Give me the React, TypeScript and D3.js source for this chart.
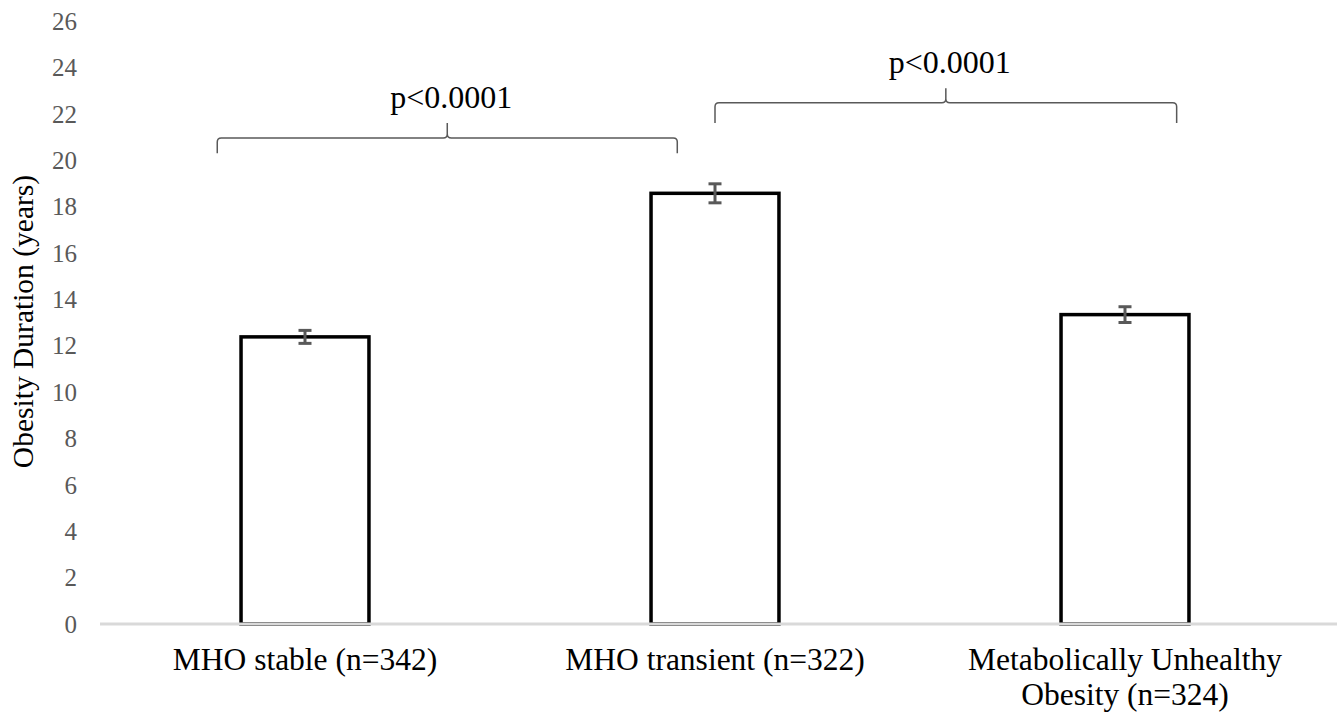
import React from "react";
import * as d3 from "d3";

// data
const categories = ["MHO stable (n=342)", "MHO transient (n=322)", "Metabolically Unhealthy Obesity (n=324)"];
const categoryLines = [["MHO stable (n=342)"], ["MHO transient (n=322)"], ["Metabolically Unhealthy", "Obesity (n=324)"]];
const means = [12.38, 18.57, 13.34];
const errors = [0.28, 0.41, 0.34];
const yTicks = [0, 2, 4, 6, 8, 10, 12, 14, 16, 18, 20, 22, 24, 26];

// significance braces: span in category units (0..3), heights in y units
const braceLabels = ["p<0.0001", "p<0.0001"];
const braceFrom = [0.286, 1.5];
const braceTo = [1.408, 2.626];
const braceLevel = [20.96, 22.47];
const braceFoot = [20.3, 21.6];
const bracePeak = [21.6, 23.1];

const width = 1337;
const height = 715;
const margin = { left: 100, right: 7, top: 21, bottom: 91 };
const font = "'Liberation Serif', 'Times New Roman', serif";
const gray = "#595959";

export default function App() {
  const x = d3
    .scaleBand<string>()
    .domain(categories)
    .range([margin.left, width - margin.right])
    .paddingInner(0.688)
    .paddingOuter(0.344);

  const xc = d3.scaleLinear().domain([0, 3]).range([margin.left, width - margin.right]);

  const y = d3
    .scaleLinear()
    .domain([0, 26])
    .range([height - margin.bottom, margin.top]);

  const bracePath = (i: number) => {
    const x0 = xc(braceFrom[i]);
    const x1 = xc(braceTo[i]);
    const xm = (x0 + x1) / 2;
    const yl = y(braceLevel[i]);
    const yf = y(braceFoot[i]);
    const yp = y(bracePeak[i]);
    const r = 4;
    return [
      `M${x0},${yf}`,
      `L${x0},${yl + r}`,
      `Q${x0},${yl} ${x0 + r},${yl}`,
      `L${xm - r},${yl}`,
      `Q${xm},${yl} ${xm},${yl - r}`,
      `L${xm},${yp}`,
      `M${xm},${yl - r}`,
      `Q${xm},${yl} ${xm + r},${yl}`,
      `L${x1 - r},${yl}`,
      `Q${x1},${yl} ${x1},${yl + r}`,
      `L${x1},${yf}`,
    ].join(" ");
  };

  return (
    <svg
      width={width}
      height={height}
      style={{ position: "absolute", left: 0, top: 0, background: "#fff" }}
      fontFamily={font}
    >
      {/* y tick labels */}
      {yTicks.map((t) => (
        <text
          key={t}
          x={77}
          y={y(t)}
          dy="0.35em"
          textAnchor="end"
          fontSize={25}
          fill={gray}
        >
          {t}
        </text>
      ))}

      {/* y axis title */}
      <text
        transform={`translate(33, ${(y(0) + y(26)) / 2 - 1}) rotate(-90)`}
        textAnchor="middle"
        fontSize={29.5}
        fill="#000"
      >
        Obesity Duration (years)
      </text>

      {/* bars */}
      {categories.map((c, i) => (
        <rect
          key={c}
          x={x(c)!}
          y={y(means[i])}
          width={x.bandwidth()}
          height={y(0) - y(means[i])}
          fill="#fff"
          stroke="#000"
          strokeWidth={3.5}
        />
      ))}

      {/* axis line */}
      <line
        x1={margin.left}
        x2={width}
        y1={y(0)}
        y2={y(0)}
        stroke="#d9d9d9"
        strokeWidth={3}
      />

      {/* error bars */}
      {categories.map((c, i) => {
        const cx = x(c)! + x.bandwidth() / 2;
        const lo = y(means[i] - errors[i]);
        const hi = y(means[i] + errors[i]);
        return (
          <g key={c} stroke={gray} strokeWidth={3}>
            <line x1={cx} x2={cx} y1={lo} y2={hi} />
            <line x1={cx - 6.5} x2={cx + 6.5} y1={lo} y2={lo} />
            <line x1={cx - 6.5} x2={cx + 6.5} y1={hi} y2={hi} />
          </g>
        );
      })}

      {/* category labels */}
      {categories.map((c, i) => (
        <text
          key={c}
          x={x(c)! + x.bandwidth() / 2}
          y={y(0) + 46}
          textAnchor="middle"
          fontSize={31.5}
          fill="#000"
        >
          {categoryLines[i].map((line, j) => (
            <tspan key={j} x={x(c)! + x.bandwidth() / 2} dy={j === 0 ? 0 : 35}>
              {line}
            </tspan>
          ))}
        </text>
      ))}

      {/* significance braces */}
      {braceLabels.map((label, i) => {
        const xm = (xc(braceFrom[i]) + xc(braceTo[i])) / 2;
        return (
          <g key={i}>
            <path d={bracePath(i)} fill="none" stroke={gray} strokeWidth={1.5} />
            <text
              x={xm + 4}
              y={y(bracePeak[i]) - 15}
              textAnchor="middle"
              fontSize={32}
              fill="#000"
            >
              {label}
            </text>
          </g>
        );
      })}
    </svg>
  );
}
